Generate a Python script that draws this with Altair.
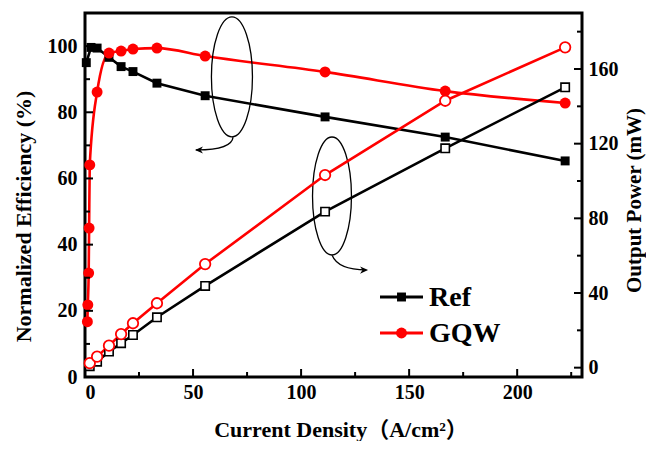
import altair as alt
import pandas as pd

# ---------------- data ----------------
j_ref_eff = [0.6, 2.8, 5.6, 11.1, 16.7, 22.2, 33.3, 55.6, 111.1, 166.7, 222.2]
eff_ref = [95.0, 99.6, 99.4, 96.6, 93.8, 92.3, 88.8, 85.0, 78.6, 72.5, 65.3]

j_gqw_eff = [1.1, 1.3, 1.7, 1.9, 2.2, 5.6, 11.1, 16.7, 22.2, 33.3, 55.6, 111.1, 166.7, 222.2]
eff_gqw = [16.7, 21.8, 31.4, 45.0, 64.1, 86.1, 97.9, 98.5, 99.1, 99.4, 97.0, 92.2, 86.4, 82.8]

j_ref_pow = [2.2, 5.6, 11.1, 16.7, 22.2, 33.3, 55.6, 111.1, 166.7, 222.2]
pow_ref = [0.8, 3.2, 8.6, 13.1, 17.5, 27.0, 43.8, 83.6, 117.5, 150.2]

j_gqw_pow = [2.2, 5.6, 11.1, 16.7, 22.2, 33.3, 55.6, 111.1, 166.7, 222.2]
pow_gqw = [2.4, 5.9, 11.8, 18.0, 23.8, 34.5, 55.5, 103.2, 143.0, 171.6]

x_major = [0, 50, 100, 150, 200]
x_minor = [25, 75, 125, 175, 225]
yl_major = [0, 20, 40, 60, 80, 100]
yl_minor = [10, 30, 50, 70, 90]
yr_major = [0, 40, 80, 120, 160]
yr_minor = [20, 60, 100, 140, 180]

series_names = ["Ref", "GQW"]
colors = ["#000000", "#ff0000"]

# ---------------- layout ----------------
W, H = 497, 364
FONT = "Liberation Serif, Noto Sans CJK SC"
XD = [0, 230]
YL = [0, 110]
YR = [-5, 190]

xs = alt.Scale(domain=XD, nice=False, zero=False, padding=0)
yls = alt.Scale(domain=YL, nice=False, zero=False, padding=0)
yrs = alt.Scale(domain=YR, nice=False, zero=False, padding=0)

df_ref_eff = pd.DataFrame({"J": j_ref_eff, "v": eff_ref})
df_gqw_eff = pd.DataFrame({"J": j_gqw_eff, "v": eff_gqw})
df_ref_pow = pd.DataFrame({"J": j_ref_pow, "v": pow_ref})
df_gqw_pow = pd.DataFrame({"J": j_gqw_pow, "v": pow_gqw})

x_axis = alt.Axis(values=x_major, title="Current Density（A/cm²）", grid=False,
                  domain=False, ticks=False, labelPadding=5,
                  titleX=W / 2 + 7, titleY=52, titleAlign="center", titleBaseline="middle",
                  titleFontSize=22)
yl_axis = alt.Axis(values=yl_major, title="Normalized Efficiency (%)", grid=False,
                   domain=False, ticks=False, labelPadding=8, orient="left",
                   titleX=-62, titleY=H / 2 + 21, titleAngle=-90,
                   titleAlign="center", titleBaseline="middle", titleFontSize=22)
yr_axis = alt.Axis(values=yr_major, title="Output Power (mW)", grid=False,
                   domain=False, ticks=False, labelPadding=6, orient="right",
                   titleX=52, titleY=H / 2 + 5, titleAngle=-90,
                   titleAlign="center", titleBaseline="middle", titleFontSize=21)


def X():
    return alt.X("J:Q", scale=xs, axis=x_axis)


def YL_():
    return alt.Y("v:Q", scale=yls, axis=yl_axis)


def YR_():
    return alt.Y("v:Q", scale=yrs, axis=yr_axis)


# efficiency lines (left axis)
ref_eff_line = alt.Chart(df_ref_eff).mark_line(color=colors[0], strokeWidth=2.6).encode(
    x=X(), y=YL_())
ref_eff_pts = alt.Chart(df_ref_eff).mark_point(shape="square", filled=True, size=80,
                                               color=colors[0], opacity=1).encode(
    x=X(), y=YL_())
gqw_eff_line = alt.Chart(df_gqw_eff).mark_line(color=colors[1], strokeWidth=2.6,
                                               interpolate="monotone").encode(
    x=X(), y=YL_())
gqw_eff_pts = alt.Chart(df_gqw_eff).mark_point(shape="circle", filled=True, size=120,
                                               color=colors[1], opacity=1).encode(
    x=X(), y=YL_())


# tick marks drawn inward
def xticks(vals, ln):
    d = pd.DataFrame({"J": vals})
    return alt.Chart(d).mark_rule(color="black", strokeWidth=2).encode(
        x=X(), y=alt.value(H), y2=alt.value(H - ln))


def ylticks(vals, ln):
    d = pd.DataFrame({"v": vals})
    return alt.Chart(d).mark_rule(color="black", strokeWidth=2).encode(
        y=YL_(), x=alt.value(0), x2=alt.value(ln))


def yrticks(vals, ln):
    d = pd.DataFrame({"v": vals})
    return alt.Chart(d).mark_rule(color="black", strokeWidth=2).encode(
        y=YR_(), x=alt.value(W), x2=alt.value(W - ln))


# annotation ellipses with curved arrows (placed in data coordinates)
ann_ell = pd.DataFrame({"J": [68.0, 114.3], "v": [90.7, 54.7],
                        "shape": ["M0,-1 A0.342,1 0 1,0 0,1 A0.342,1 0 1,0 0,-1 M0.02,1 Q0,1.22 -0.6,1.217",
                                  "M0,-1 A0.33,1 0 1,0 0,1 A0.33,1 0 1,0 0,-1 M0,1 Q0.1,1.25 0.58,1.254"],
                        "size": [14400, 13924]})
ellipses = alt.Chart(ann_ell).mark_point(filled=False, color="black", strokeWidth=1.3,
                                         opacity=1).encode(
    x=X(), y=YL_(),
    shape=alt.Shape("shape:N", scale=None),
    size=alt.Size("size:Q", scale=None))
ann_head = pd.DataFrame({"J": [50.9, 131.0], "v": [68.6, 32.3],
                         "shape": ["M0,0 L1,-0.45 L0.7,0 L1,0.45 Z",
                                   "M0,0 L-1,-0.45 L-0.7,0 L-1,0.45 Z"]})
heads = alt.Chart(ann_head).mark_point(filled=True, color="black", size=256, opacity=1).encode(
    x=X(), y=YL_(),
    shape=alt.Shape("shape:N", scale=None))

# manual legend
leg_rows = []
for i, name in enumerate(series_names):
    yy = 284 + 36 * i
    one = pd.DataFrame({"name": [name]})
    leg_rows.append(alt.Chart(one).mark_rule(color=colors[i], strokeWidth=3).encode(
        x=alt.value(295), x2=alt.value(338), y=alt.value(yy)))
    leg_rows.append(alt.Chart(one).mark_point(shape="square" if i == 0 else "circle",
                                              filled=True, size=80 if i == 0 else 120,
                                              color=colors[i], opacity=1).encode(
        x=alt.value(316.5), y=alt.value(yy)))
    leg_rows.append(alt.Chart(one).mark_text(align="left", baseline="middle", font=FONT,
                                             fontSize=28, fontWeight="bold",
                                             color="black").encode(
        x=alt.value(344), y=alt.value(yy + 1), text="name:N"))

left_group = alt.layer(
    ref_eff_line, gqw_eff_line, ref_eff_pts, gqw_eff_pts,
    xticks(x_major, 8), xticks(x_minor, 5),
    ylticks(yl_major, 8), ylticks(yl_minor, 5),
    ellipses, heads, *leg_rows)

# power lines (right axis)
ref_pow_line = alt.Chart(df_ref_pow).mark_line(color=colors[0], strokeWidth=2.6).encode(
    x=X(), y=YR_())
ref_pow_pts = alt.Chart(df_ref_pow).mark_point(shape="square", filled=True, size=70,
                                               fill="white", stroke=colors[0],
                                               strokeWidth=1.6, opacity=1).encode(
    x=X(), y=YR_())
gqw_pow_line = alt.Chart(df_gqw_pow).mark_line(color=colors[1], strokeWidth=2.6).encode(
    x=X(), y=YR_())
gqw_pow_pts = alt.Chart(df_gqw_pow).mark_point(shape="circle", filled=True, size=110,
                                               fill="white", stroke=colors[1],
                                               strokeWidth=1.8, opacity=1).encode(
    x=X(), y=YR_())

right_group = alt.layer(
    ref_pow_line, gqw_pow_line, ref_pow_pts, gqw_pow_pts,
    yrticks(yr_major, 8), yrticks(yr_minor, 5))

chart = alt.layer(left_group, right_group).resolve_scale(y="independent").properties(
    width=W, height=H,
    autosize=alt.AutoSizeParams(type="none"),
    padding={"left": 77, "top": 5, "right": 64, "bottom": 64},
).configure_view(stroke="black", strokeWidth=3).configure_axis(
    labelFont=FONT, labelFontSize=20, labelFontWeight="bold", labelColor="black",
    titleFont=FONT, titleFontSize=21, titleFontWeight="bold", titleColor="black",
)

chart.save("out.html", embed_options={"renderer": "svg", "actions": False})
